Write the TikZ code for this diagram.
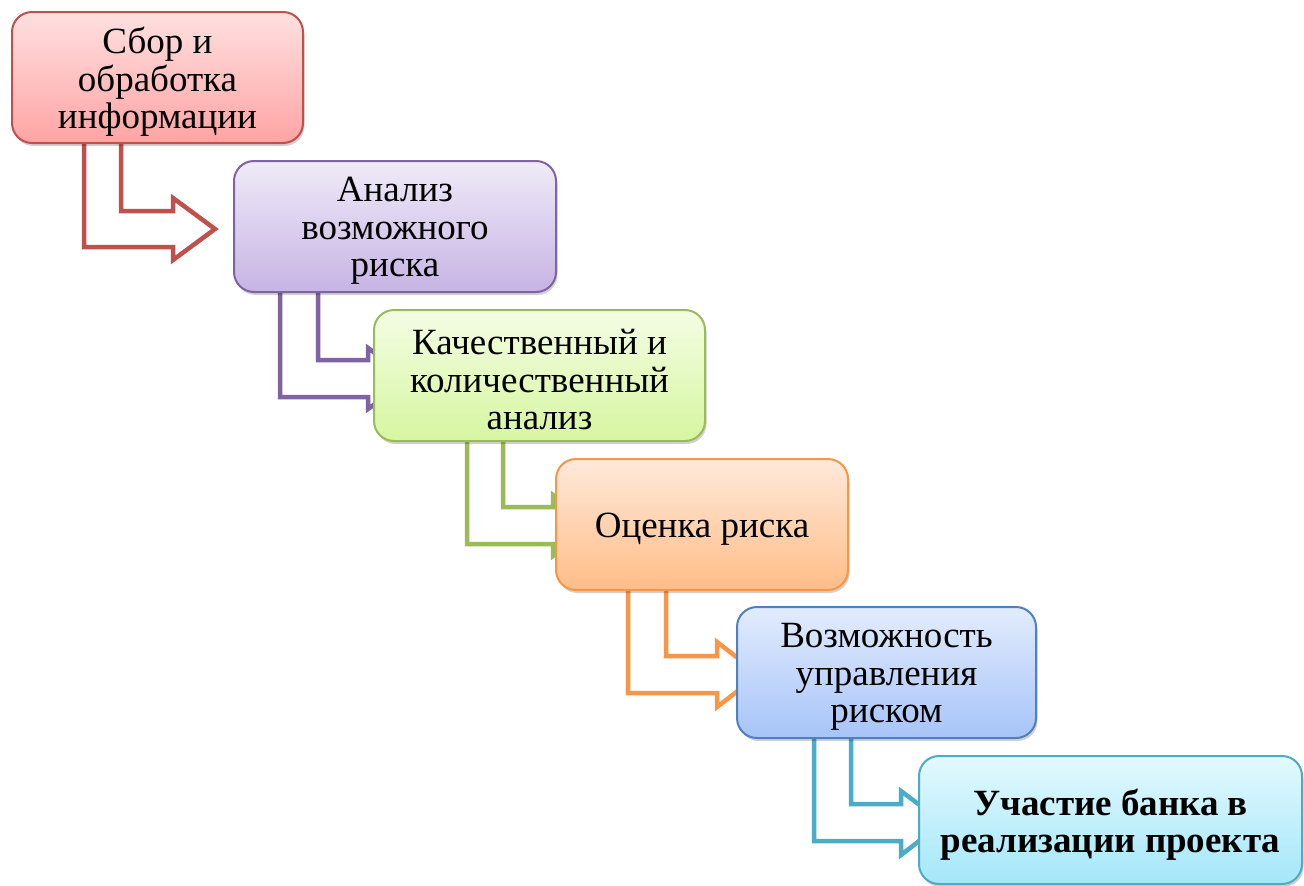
\documentclass[tikz,border=0pt]{standalone}
\usepackage{fontspec}
\setmainfont{Liberation Serif}
\usetikzlibrary{shadows}
\pgfdeclarelayer{bg}
\pgfsetlayers{bg,main}
\definecolor{cR}{HTML}{C0504D}
\definecolor{cP}{HTML}{8064A2}
\definecolor{cG}{HTML}{9BBB59}
\definecolor{cO}{HTML}{F79646}
\definecolor{cB}{HTML}{4F81BD}
\definecolor{cC}{HTML}{4BACC6}
\tikzset{
  box/.style={rounded corners=20pt, line width=2pt, inner sep=0pt,
    drop shadow={shadow xshift=1.5pt, shadow yshift=-3pt, opacity=0.18, fill=black}},
  boxtext/.style={inner sep=0pt, align=center, yshift=-4.5pt,
    font=\fontsize{37}{37.5}\selectfont},
  bentarr/.style={line width=4.5pt, line join=miter, draw=#1}
}
\begin{document}
\begin{tikzpicture}[x=1pt,y=-1pt]
\useasboundingbox (0,0) rectangle (1304,886);
\node[box, draw=cR, top color={rgb,255:red,255;green,224;blue,224}, bottom color={rgb,255:red,255;green,164;blue,164},
  minimum width=291pt, minimum height=131pt] (b1) at (157.5,77.5) {};
\node[boxtext] (t1) at (b1.center) {Сбор и\\обработка\\информации};
\node[box, draw=cP, top color={rgb,255:red,240;green,234;blue,248}, bottom color={rgb,255:red,198;green,180;blue,228},
  minimum width=322pt, minimum height=131pt] (b2) at (395,226.5) {};
\node[boxtext] (t2) at (b2.center) {Анализ\\возможного\\риска};
\node[box, draw=cG, top color={rgb,255:red,244;green,253;blue,228}, bottom color={rgb,255:red,214;green,246;blue,160},
  minimum width=331pt, minimum height=131pt] (b3) at (539.5,375.5) {};
\node[boxtext] (t3) at (b3.center) {Качественный и\\количественный\\анализ};
\node[box, draw=cO, top color={rgb,255:red,255;green,233;blue,218}, bottom color={rgb,255:red,255;green,189;blue,135},
  minimum width=292pt, minimum height=131pt] (b4) at (702,524.5) {};
\node[boxtext] (t4) at (b4.center) {Оценка риска};
\node[box, draw=cB, top color={rgb,255:red,226;green,236;blue,253}, bottom color={rgb,255:red,167;green,196;blue,249},
  minimum width=299pt, minimum height=131pt] (b5) at (886.5,672.5) {};
\node[boxtext] (t5) at (b5.center) {Возможность\\управления\\риском};
\node[box, draw=cC, top color={rgb,255:red,227;green,249;blue,254}, bottom color={rgb,255:red,164;green,231;blue,249},
  minimum width=383pt, minimum height=128pt] (b6) at (1110.5,820) {};
\node[boxtext, font=\fontsize{37}{37.5}\selectfont\bfseries] (t6) at (b6.center) {Участие банка в\\реализации проекта};
\begin{pgfonlayer}{bg}
\fill[white] (0,0) rectangle (1304,886);
\draw[bentarr=cR] (121,0 |- b1.south) -- (121,211) -- (173,211) -- (173,198) -- (215,229) -- (173,260) -- (173,247) -- (84,247) -- (84,0 |- b1.south);
\draw[bentarr=cP] (318,0 |- b2.south) -- (318,360) -- (368,360) -- (368,348) -- (410,378.5) -- (368,409) -- (368,397) -- (280,397) -- (280,0 |- b2.south);
\draw[bentarr=cG] (503,0 |- b3.south) -- (503,507) -- (553,507) -- (553,495) -- (595,525.5) -- (553,556) -- (553,544) -- (467,544) -- (467,0 |- b3.south);
\draw[bentarr=cO] (666,0 |- b4.south) -- (666,656) -- (717,656) -- (717,642) -- (759,674.5) -- (717,707) -- (717,693) -- (628,693) -- (628,0 |- b4.south);
\draw[bentarr=cC] (851,0 |- b5.south) -- (851,804) -- (901,804) -- (901,791) -- (943,822.5) -- (901,855) -- (901,841) -- (814,841) -- (814,0 |- b5.south);
\end{pgfonlayer}
\end{tikzpicture}
\end{document}
